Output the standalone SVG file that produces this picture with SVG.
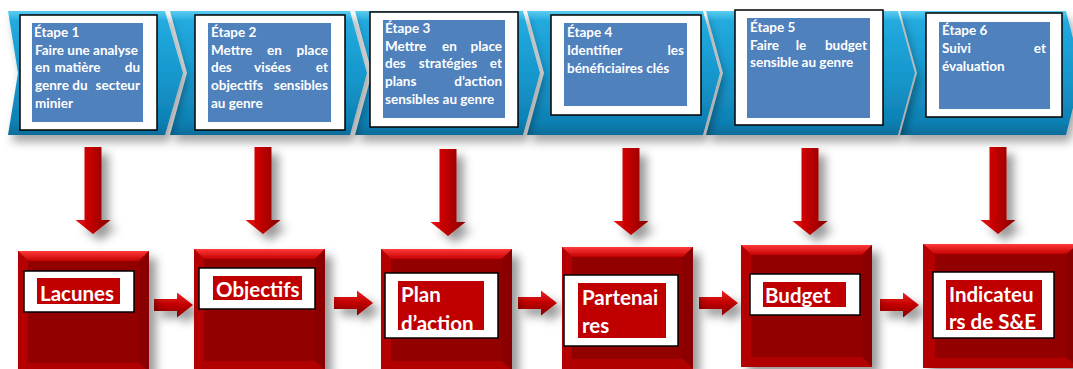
<svg xmlns="http://www.w3.org/2000/svg" xmlns:xlink="http://www.w3.org/1999/xlink" width="1073" height="369" viewBox="0 0 1073 369">
  <style>
    .step{font-family:Lato,"Open Sans","Liberation Sans",sans-serif;font-weight:bold;font-size:13.5px;fill:#fff}
    .r{text-anchor:end}
    .m{text-anchor:middle}
    .lbl{font-family:Lato,"Open Sans","Liberation Sans",sans-serif;font-weight:bold;font-size:20.5px;fill:#fff}
    .card{fill:#fff;stroke:#000;stroke-width:1.5}
    .blue{fill:#4f81bd}
    .tag{fill:#c00000}
    .chev{fill:url(#chevGrad);filter:url(#chevShadow)}
  </style>
  <defs>
    <linearGradient id="chevGrad" x1="0" y1="0" x2="0" y2="1">
      <stop offset="0" stop-color="#5ccdf0"/>
      <stop offset="0.08" stop-color="#22aadf"/>
      <stop offset="0.55" stop-color="#1696cb"/>
      <stop offset="0.9" stop-color="#0f80b3"/>
      <stop offset="1" stop-color="#0a6c9a"/>
    </linearGradient>
    <linearGradient id="downGrad" x1="0" y1="0" x2="1" y2="0">
      <stop offset="0" stop-color="#e81010"/>
      <stop offset="0.45" stop-color="#c00000"/>
      <stop offset="1" stop-color="#840000"/>
    </linearGradient>
    <linearGradient id="rightGrad" x1="0" y1="0" x2="0" y2="1">
      <stop offset="0" stop-color="#f02020"/>
      <stop offset="0.5" stop-color="#c00000"/>
      <stop offset="1" stop-color="#860000"/>
    </linearGradient>
    <linearGradient id="bevTop" x1="0" y1="0" x2="0" y2="1">
      <stop offset="0" stop-color="#ff3a3a"/>
      <stop offset="1" stop-color="#c40000"/>
    </linearGradient>
    <filter id="chevShadow" x="-10%" y="-20%" width="130%" height="150%">
      <feDropShadow dx="4" dy="7" stdDeviation="5" flood-color="#000" flood-opacity="0.35"/>
    </filter>
    <filter id="shadow" x="-40%" y="-30%" width="180%" height="170%">
      <feDropShadow dx="7" dy="7" stdDeviation="5" flood-color="#000" flood-opacity="0.4"/>
    </filter>
    <!-- bevelled red block -->
    <symbol id="block" viewBox="0 0 131 122" preserveAspectRatio="none">
      <rect x="0" y="0" width="131" height="122" fill="#c00000"/>
      <polygon points="0,0 131,0 121,10 10,10" fill="url(#bevTop)"/>
      <polygon points="0,0 10,10 10,112 0,122" fill="#b40000"/>
      <polygon points="131,0 131,122 121,112 121,10" fill="#8a0000"/>
      <polygon points="0,122 10,112 121,112 131,122" fill="#b00000"/>
      <rect x="10" y="10" width="111" height="102" fill="#920000"/>
    </symbol>
    <polygon id="down" points="-8.5,0 8.5,0 8.5,73 17.5,73 0,87 -17.5,73 -8.5,73" fill="url(#downGrad)"/>
    <polygon id="right" points="0,-6 23,-6 23,-12.5 39,0 23,12.5 23,6 0,6" fill="url(#rightGrad)"/>
  </defs>

  <!-- chevron band -->
  <g id="band">
    <polygon class="chev" points="900,11 1066,11 1082,73 1066,135 900,135 917,73"/>
    <polygon class="chev" points="706,11 898,11 915,73 898,135 706,135 723,73"/>
    <polygon class="chev" points="527,11 703,11 720,73 703,135 527,135 544,73"/>
    <polygon class="chev" points="355,11 523,11 540,73 523,135 355,135 372,73"/>
    <polygon class="chev" points="170,11 350,11 367,73 350,135 170,135 187,73"/>
    <polygon class="chev" points="8,11 165,11 183,73 165,135 8,135 18,73"/>
  </g>

  <!-- step cards (justified lines are set word by word) -->
  <g id="step1">
    <rect class="card" x="20" y="15" width="137" height="115"/>
    <rect class="blue" x="32" y="23" width="111" height="99"/>
    <text class="step" x="34" y="37">Étape 1</text>
    <text class="step" x="35" y="54.5">Faire une analyse</text>
    <text class="step" x="35" y="72">en</text>
    <text class="step m" x="77.5" y="72">matière</text>
    <text class="step r" x="140" y="72">du</text>
    <text class="step" x="35" y="90">genre</text>
    <text class="step m" x="80" y="90">du</text>
    <text class="step r" x="140" y="90">secteur</text>
    <text class="step" x="35" y="107.5">minier</text>
  </g>
  <g id="step2">
    <rect class="card" x="195" y="15" width="150" height="115"/>
    <rect class="blue" x="208" y="23" width="123" height="99"/>
    <text class="step" x="211" y="37">Étape 2</text>
    <text class="step" x="211" y="54.5">Mettre</text>
    <text class="step m" x="274.5" y="54.5">en</text>
    <text class="step r" x="328" y="54.5">place</text>
    <text class="step" x="211" y="72">des</text>
    <text class="step m" x="272.5" y="72">visées</text>
    <text class="step r" x="328" y="72">et</text>
    <text class="step" x="211" y="90">objectifs</text>
    <text class="step r" x="328" y="90">sensibles</text>
    <text class="step" x="211" y="107.5">au genre</text>
  </g>
  <g id="step3">
    <rect class="card" x="370" y="12" width="148" height="115"/>
    <rect class="blue" x="383" y="20" width="122" height="98"/>
    <text class="step" x="385" y="33">Étape 3</text>
    <text class="step" x="385" y="50.5">Mettre</text>
    <text class="step m" x="449.5" y="50.5">en</text>
    <text class="step r" x="502" y="50.5">place</text>
    <text class="step" x="385" y="68">des</text>
    <text class="step m" x="448" y="68">stratégies</text>
    <text class="step r" x="502" y="68">et</text>
    <text class="step" x="385" y="86">plans</text>
    <text class="step r" x="502" y="86">d’action</text>
    <text class="step" x="385" y="103.5">sensibles au genre</text>
  </g>
  <g id="step4">
    <rect class="card" x="551" y="15" width="150" height="100"/>
    <rect class="blue" x="564" y="23" width="123" height="83"/>
    <text class="step" x="567" y="37">Étape 4</text>
    <text class="step" x="567" y="55">Identifier</text>
    <text class="step r" x="684" y="55">les</text>
    <text class="step" x="567" y="72.5">bénéficiaires clés</text>
  </g>
  <g id="step5">
    <rect class="card" x="735" y="10" width="148" height="115"/>
    <rect class="blue" x="747" y="18" width="123" height="100"/>
    <text class="step" x="750" y="32">Étape 5</text>
    <text class="step" x="750" y="49.5">Faire</text>
    <text class="step m" x="801" y="49.5">le</text>
    <text class="step r" x="867" y="49.5">budget</text>
    <text class="step" x="750" y="67">sensible au genre</text>
  </g>
  <g id="step6">
    <rect class="card" x="926" y="13" width="136" height="104"/>
    <rect class="blue" x="939" y="22" width="111" height="87"/>
    <text class="step" x="942" y="35">Étape 6</text>
    <text class="step" x="942" y="53">Suivi</text>
    <text class="step r" x="1046" y="53">et</text>
    <text class="step" x="942" y="70.5">évaluation</text>
  </g>

  <!-- arrows -->
  <g id="connectors" filter="url(#shadow)">
    <use href="#down" transform="translate(93,147)"/>
    <use href="#down" transform="translate(263,147)"/>
    <use href="#down" transform="translate(448,149)"/>
    <use href="#down" transform="translate(631,148)"/>
    <use href="#down" transform="translate(810,148)"/>
    <use href="#down" transform="translate(998,147)"/>
    <use href="#right" transform="translate(154,305)"/>
    <use href="#right" transform="translate(334,303)"/>
    <use href="#right" transform="translate(518,303)"/>
    <use href="#right" transform="translate(699,303)"/>
    <use href="#right" transform="translate(880,305)"/>
  </g>

  <!-- outcome blocks -->
  <g id="lacunes">
    <use href="#block" x="18" y="251" width="131" height="122" filter="url(#shadow)"/>
    <rect class="card" x="24" y="271" width="110" height="41" stroke-width="1.2"/>
    <rect class="tag" x="37" y="278" width="83" height="26"/>
    <text class="lbl" x="40" y="301">Lacunes</text>
  </g>
  <g id="objectifs">
    <use href="#block" x="194" y="249" width="131" height="122" filter="url(#shadow)"/>
    <rect class="card" x="199" y="268" width="116" height="41" stroke-width="1.2"/>
    <rect class="tag" x="213" y="276" width="89" height="24"/>
    <text class="lbl" x="216" y="297">Objectifs</text>
  </g>
  <g id="plan">
    <use href="#block" x="381" y="249" width="131" height="122" filter="url(#shadow)"/>
    <rect class="card" x="385" y="273" width="113" height="65" stroke-width="1.2"/>
    <rect class="tag" x="398" y="281" width="86" height="49"/>
    <text class="lbl" x="401" y="302">Plan</text>
    <text class="lbl" x="401" y="331">d’action</text>
  </g>
  <g id="partenaires">
    <use href="#block" x="562" y="247" width="131" height="122" filter="url(#shadow)"/>
    <rect class="card" x="564" y="275" width="114" height="71" stroke-width="1.2"/>
    <rect class="tag" x="578" y="283" width="88" height="55"/>
    <text class="lbl" x="582" y="305">Partenai</text>
    <text class="lbl" x="582" y="333">res</text>
  </g>
  <g id="budget">
    <use href="#block" x="741" y="245" width="131" height="122" filter="url(#shadow)"/>
    <rect class="card" x="750" y="274" width="110" height="41" stroke-width="1.2"/>
    <rect class="tag" x="763" y="282" width="83" height="25"/>
    <text class="lbl" x="765" y="303">Budget</text>
  </g>
  <g id="indicateurs">
    <use href="#block" x="923" y="244" width="155" height="124" filter="url(#shadow)"/>
    <rect class="card" x="933" y="272" width="121" height="66" stroke-width="1.2"/>
    <rect class="tag" x="946" y="280" width="96" height="50"/>
    <text class="lbl" x="949" y="302">Indicateu</text>
    <text class="lbl" x="949" y="329">rs de S&amp;E</text>
  </g>
</svg>
